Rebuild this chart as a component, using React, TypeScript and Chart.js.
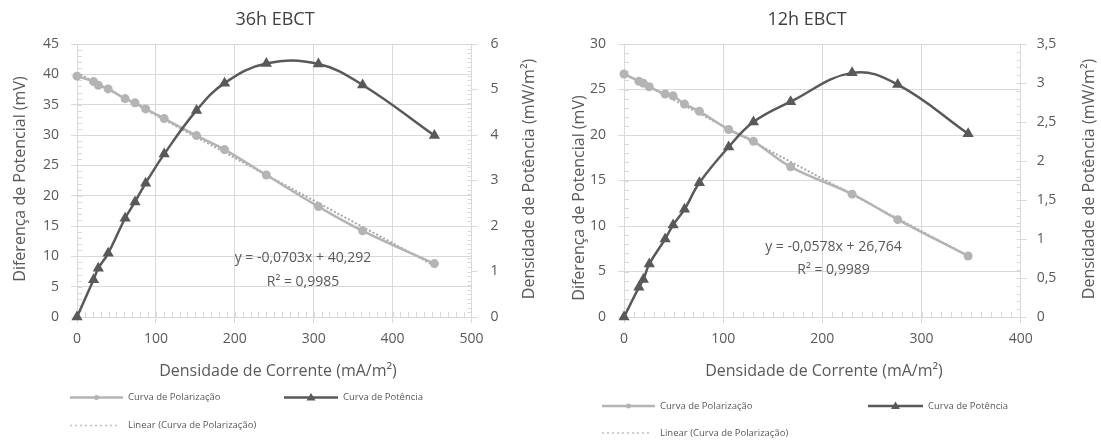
import React, { useEffect, useRef } from "react";
import { Chart, registerables } from "chart.js";

Chart.register(...registerables);

// ---------------- DATA: 36h EBCT ----------------
const current36 = [0, 21, 27, 39.5, 61, 73.5, 87, 110.5, 151.5, 187, 240, 306, 362, 453];
const polarization36 = [39.7, 38.8, 38.2, 37.6, 36.0, 35.3, 34.3, 32.7, 29.9, 27.6, 23.4, 18.2, 14.2, 8.8];
const power36 = [0, 0.82, 1.07, 1.4, 2.17, 2.53, 2.94, 3.58, 4.54, 5.14, 5.57, 5.56, 5.1, 3.99];
const trendX36 = [0, 453];
const trendY36 = [40.29, 8.45];
const xTicks36 = [0, 100, 200, 300, 400, 500];
const yTicks36 = [0, 5, 10, 15, 20, 25, 30, 35, 40, 45];
const y2Ticks36 = [0, 1, 2, 3, 4, 5, 6];
const equation36 = ["y = -0,0703x + 40,292", "R² = 0,9985"];

// ---------------- DATA: 12h EBCT ----------------
const current12 = [0, 15, 19.5, 25.5, 41.5, 49.5, 61, 76, 105.5, 130.5, 168, 230, 276, 347];
const polarization12 = [26.7, 25.9, 25.7, 25.3, 24.5, 24.3, 23.4, 22.6, 20.6, 19.3, 16.5, 13.5, 10.7, 6.7];
const power12 = [0, 0.38, 0.48, 0.68, 1.0, 1.18, 1.38, 1.72, 2.18, 2.5, 2.76, 3.13, 2.98, 2.35];
const trendX12 = [0, 347];
const trendY12 = [26.76, 6.71];
const xTicks12 = [0, 100, 200, 300, 400];
const yTicks12 = [0, 5, 10, 15, 20, 25, 30];
const y2Ticks12 = [0, 0.5, 1, 1.5, 2, 2.5, 3, 3.5];
const equation12 = ["y = -0,0578x + 26,764", "R² = 0,9989"];

const seriesNames = ["Curva de Polarização", "Curva de Potência", "Linear (Curva de Polarização)"];
const xAxisTitle = "Densidade de Corrente (mA/m²)";
const yAxisTitle = "Diferença de Potencial (mV)";
const y2AxisTitle = "Densidade de Potência (mW/m²)";

// ---------------- STYLE ----------------
const FONT = "'Open Sans', sans-serif";
const GRID = "#d9d9d9";
const TEXT = "#595959";
const DARK = "#595959";
const LIGHT = "#b4b4b4";
const TREND = "#a8a8a8";
const H = 441;

type Spec = {
  title: string;
  width: number;
  current: number[];
  polarization: number[];
  power: number[];
  trendX: number[];
  trendY: number[];
  xTicks: number[];
  yTicks: number[];
  y2Ticks: number[];
  equation: string[];
  minor: { x: number; y: number; y1: number };
  area: { left: number; right: number; top: number; bottom: number };
  pad: { y: number; y1: number; x: number };
  pos: {
    title: [number, number];
    yTitle: [number, number];
    y2Title: [number, number];
    xTitle: [number, number];
    eq: [number, number, number];
    legendRow1: number;
    legendRow2: number;
    item1: [number, number, number];
    item2: [number, number, number];
    item3: [number, number, number];
  };
};

const spec36: Spec = {
  title: "36h EBCT",
  width: 550,
  current: current36,
  polarization: polarization36,
  power: power36,
  trendX: trendX36,
  trendY: trendY36,
  xTicks: xTicks36,
  yTicks: yTicks36,
  y2Ticks: y2Ticks36,
  equation: equation36,
  minor: { x: 10, y: 1, y1: 0.1 },
  area: { left: 77, right: 471.5, top: 44, bottom: 317 },
  pad: { y: 12, y1: 13, x: 8 },
  pos: {
    title: [275, 20],
    yTitle: [20, 179],
    y2Title: [529, 179],
    xTitle: [278, 371],
    eq: [303, 258, 282],
    legendRow1: 397.5,
    legendRow2: 425.5,
    item1: [70, 123, 128],
    item2: [284, 338, 343],
    item3: [70, 120, 128],
  },
};

const spec12: Spec = {
  title: "12h EBCT",
  width: 551,
  current: current12,
  polarization: polarization12,
  power: power12,
  trendX: trendX12,
  trendY: trendY12,
  xTicks: xTicks12,
  yTicks: yTicks12,
  y2Ticks: y2Ticks12,
  equation: equation12,
  minor: { x: 10, y: 1, y1: 0.1 },
  area: { left: 74, right: 470.7, top: 44, bottom: 317 },
  pad: { y: 12, y1: 10, x: 8 },
  pos: {
    title: [257, 20],
    yTitle: [29, 198],
    y2Title: [539, 179],
    xTitle: [274, 371.5],
    eq: [283.5, 247, 270],
    legendRow1: 406,
    legendRow2: 433,
    item1: [52, 105, 110],
    item2: [318, 373, 378],
    item3: [52, 100, 110],
  },
};

const toPts = (xs: number[], ys: number[]) => xs.map((x, i) => ({ x, y: ys[i] }));
const fmt = (v: number) => String(v).replace(".", ",");

const minorTicksPlugin = {
  id: "minorTicks",
  beforeDatasetsDraw(chart: any, _a: any, opts: any) {
    const { ctx, chartArea } = chart;
    const { left, right, bottom } = chartArea;
    ctx.save();
    ctx.strokeStyle = GRID;
    ctx.lineWidth = 1;
    ctx.beginPath();
    const xs = chart.scales.x;
    for (let v = xs.min + opts.x; v < xs.max - 1e-9; v += opts.x) {
      const p = Math.round(xs.getPixelForValue(v)) + 0.5;
      ctx.moveTo(p, bottom);
      ctx.lineTo(p, bottom - 5);
    }
    const ys = chart.scales.y;
    for (let v = ys.min + opts.y; v < ys.max - 1e-9; v += opts.y) {
      const p = Math.round(ys.getPixelForValue(v)) + 0.5;
      ctx.moveTo(left, p);
      ctx.lineTo(left + 5, p);
    }
    const y1 = chart.scales.y1;
    for (let v = y1.min + opts.y1; v < y1.max - 1e-9; v += opts.y1) {
      const p = Math.round(y1.getPixelForValue(v)) + 0.5;
      ctx.moveTo(right, p);
      ctx.lineTo(right - 4, p);
    }
    ctx.stroke();
    ctx.restore();
  },
};

function drawMarkerLine(ctx: CanvasRenderingContext2D, x1: number, x2: number, y: number, color: string, kind: string) {
  ctx.save();
  ctx.strokeStyle = color;
  ctx.fillStyle = color;
  if (kind === "dot") {
    ctx.lineWidth = 1.5;
    ctx.setLineDash([2, 3]);
  } else {
    ctx.lineWidth = 2.5;
  }
  ctx.beginPath();
  ctx.moveTo(x1, y);
  ctx.lineTo(x2, y);
  ctx.stroke();
  ctx.setLineDash([]);
  const cx = (x1 + x2) / 2;
  if (kind === "circle") {
    ctx.beginPath();
    ctx.arc(cx, y, 2.5, 0, Math.PI * 2);
    ctx.fill();
  } else if (kind === "triangle") {
    ctx.beginPath();
    ctx.moveTo(cx, y - 4.5);
    ctx.lineTo(cx + 4.5, y + 3);
    ctx.lineTo(cx - 4.5, y + 3);
    ctx.closePath();
    ctx.fill();
  }
  ctx.restore();
}

const textPlugin = {
  id: "ebctText",
  afterDraw(chart: any, _a: any, spec: Spec) {
    const ctx: CanvasRenderingContext2D = chart.ctx;
    const p = spec.pos;
    ctx.save();
    ctx.textAlign = "center";
    ctx.textBaseline = "middle";
    // title
    ctx.fillStyle = "#404040";
    ctx.font = `18px ${FONT}`;
    ctx.fillText(spec.title, p.title[0], p.title[1]);
    // axis titles
    ctx.fillStyle = TEXT;
    ctx.font = `16px ${FONT}`;
    ctx.fillText(xAxisTitle, p.xTitle[0], p.xTitle[1]);
    ctx.save();
    ctx.translate(p.yTitle[0], p.yTitle[1]);
    ctx.rotate(-Math.PI / 2);
    ctx.fillText(yAxisTitle, 0, 0);
    ctx.restore();
    ctx.save();
    ctx.translate(p.y2Title[0], p.y2Title[1]);
    ctx.rotate(-Math.PI / 2);
    ctx.fillText(y2AxisTitle, 0, 0);
    ctx.restore();
    // equation
    ctx.font = `14px ${FONT}`;
    ctx.fillText(spec.equation[0], p.eq[0], p.eq[1]);
    ctx.fillText(spec.equation[1], p.eq[0], p.eq[2]);
    // legend
    ctx.font = `9.5px ${FONT}`;
    ctx.textAlign = "left";
    drawMarkerLine(ctx, p.item1[0], p.item1[1], p.legendRow1, LIGHT, "circle");
    ctx.fillText(seriesNames[0], p.item1[2], p.legendRow1);
    drawMarkerLine(ctx, p.item2[0], p.item2[1], p.legendRow1, DARK, "triangle");
    ctx.fillText(seriesNames[1], p.item2[2], p.legendRow1);
    drawMarkerLine(ctx, p.item3[0], p.item3[1], p.legendRow2, "#bfbfbf", "dot");
    ctx.fillText(seriesNames[2], p.item3[2], p.legendRow2);
    ctx.restore();
  },
};

function buildConfig(spec: Spec): any {
  const tickFont = { family: FONT, size: 14 };
  return {
    type: "scatter",
    data: {
      datasets: [
        {
          label: seriesNames[1],
          data: toPts(spec.current, spec.power),
          yAxisID: "y1",
          showLine: true,
          borderColor: DARK,
          backgroundColor: DARK,
          borderWidth: 2.5,
          pointStyle: "triangle",
          pointRadius: 6.5,
          pointHoverRadius: 6.5,
          pointBorderWidth: 0,
          tension: 0.4,
          clip: false,
          order: 0,
        },
        {
          label: seriesNames[0],
          data: toPts(spec.current, spec.polarization),
          yAxisID: "y",
          showLine: true,
          borderColor: LIGHT,
          backgroundColor: LIGHT,
          borderWidth: 2.5,
          pointStyle: "circle",
          pointRadius: 4.5,
          pointHoverRadius: 4.5,
          pointBorderWidth: 0,
          tension: 0.4,
          clip: false,
          order: 1,
        },
        {
          label: seriesNames[2],
          data: toPts(spec.trendX, spec.trendY),
          yAxisID: "y",
          showLine: true,
          borderColor: TREND,
          borderWidth: 2,
          borderDash: [2, 2],
          pointRadius: 0,
          pointHoverRadius: 0,
          tension: 0,
          clip: false,
          order: 2,
        },
      ],
    },
    options: {
      responsive: false,
      animation: false,
      devicePixelRatio: 1,
      events: [],
      layout: { padding: { top: spec.area.top, left: 0, right: 0, bottom: 0 } },
      plugins: {
        legend: { display: false },
        tooltip: { enabled: false },
        title: { display: false },
        minorTicks: spec.minor,
        ebctText: spec,
      },
      scales: {
        x: {
          type: "linear",
          position: "bottom",
          min: spec.xTicks[0],
          max: spec.xTicks[spec.xTicks.length - 1],
          ticks: { stepSize: spec.xTicks[1] - spec.xTicks[0], color: TEXT, font: tickFont, padding: spec.pad.x, maxRotation: 0, callback: (v: number) => fmt(v) },
          grid: { color: GRID, tickLength: 6, lineWidth: 1 },
          border: { color: GRID, width: 1 },
          afterFit: (s: any) => {
            s.height = H - spec.area.bottom;
          },
        },
        y: {
          type: "linear",
          position: "left",
          min: spec.yTicks[0],
          max: spec.yTicks[spec.yTicks.length - 1],
          ticks: { stepSize: spec.yTicks[1] - spec.yTicks[0], color: TEXT, font: tickFont, padding: spec.pad.y, autoSkip: false, callback: (v: number) => fmt(v) },
          grid: { color: GRID, tickLength: 6, lineWidth: 1 },
          border: { color: GRID, width: 1 },
          afterFit: (s: any) => {
            s.width = spec.area.left;
          },
        },
        y1: {
          type: "linear",
          position: "right",
          min: spec.y2Ticks[0],
          max: spec.y2Ticks[spec.y2Ticks.length - 1],
          ticks: { stepSize: spec.y2Ticks[1] - spec.y2Ticks[0], color: TEXT, font: tickFont, padding: spec.pad.y1, autoSkip: false, callback: (v: number) => fmt(v) },
          grid: { color: GRID, tickLength: 6, lineWidth: 1, drawOnChartArea: false },
          border: { color: GRID, width: 1 },
          afterFit: (s: any) => {
            s.width = spec.width - spec.area.right;
          },
        },
      },
    },
    plugins: [minorTicksPlugin, textPlugin],
  };
}

function EbctChart({ spec }: { spec: Spec }) {
  const ref = useRef<HTMLCanvasElement>(null);
  useEffect(() => {
    if (!ref.current) return;
    const chart = new Chart(ref.current, buildConfig(spec));
    return () => chart.destroy();
  }, [spec]);
  return <canvas ref={ref} width={spec.width} height={H} style={{ display: "block", width: spec.width, height: H }} />;
}

export default function App() {
  useEffect(() => {
    document.body.style.margin = "0";
  }, []);
  return (
    <div style={{ position: "absolute", left: 0, top: 0, width: 1101, height: H, display: "flex", background: "#fff" }}>
      <EbctChart spec={spec36} />
      <EbctChart spec={spec12} />
    </div>
  );
}
